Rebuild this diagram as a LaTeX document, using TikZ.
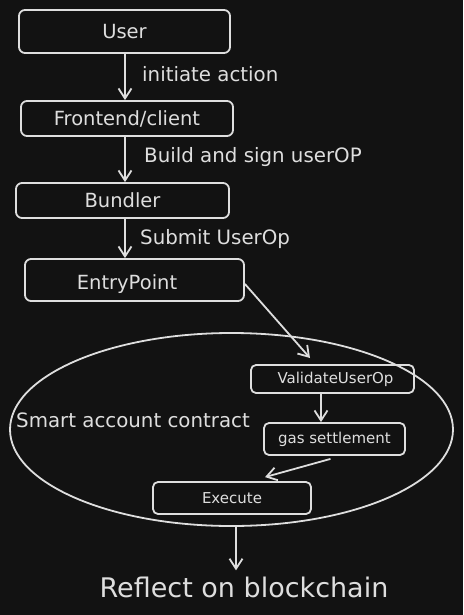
\documentclass[tikz,border=0pt]{standalone}
\usepackage{fontspec}
\setmainfont{DejaVu Sans}
\usetikzlibrary{arrows.meta,shapes.geometric}
\definecolor{bg}{HTML}{121212}
\definecolor{ink}{HTML}{DEDEDE}
\begin{document}
\begin{tikzpicture}[x=1pt,y=-1pt,
  box/.style={draw=ink,line width=1.8pt,rounded corners=6pt,text=ink,inner sep=0pt,font=\fontsize{19.5}{22}\selectfont},
  sbox/.style={box,rounded corners=5pt,font=\fontsize{15}{18}\selectfont},
  lbl/.style={text=ink,anchor=west,inner sep=0pt,font=\fontsize{19.8}{22}\selectfont},
  arr/.style={draw=ink,line width=1.8pt,-{Straight Barb[length=10pt,width=13pt,line width=1.8pt]}}]
\fill[bg] (0,0) rectangle (463,615);
\useasboundingbox (0,0) rectangle (463,615);

\node[box,minimum width=211pt,minimum height=43pt] (user) at (124.5,31.5) {User};
\node[box,minimum width=212pt,minimum height=35pt] (front) at (127,118.5) {Frontend/client};
\node[box,minimum width=213pt,minimum height=35pt] (bund) at (122.5,200.5) {Bundler};
\node[box,minimum width=219pt,minimum height=42pt] (entry) at (134.5,280) {};
\node[text=ink,inner sep=0pt,font=\fontsize{19.5}{22}\selectfont] (entrytxt) at (127,284) {EntryPoint};

\node[draw=ink,line width=1.8pt,ellipse,minimum width=443pt,minimum height=193pt,inner sep=0pt] (sac) at (231.5,429.5) {};
\node[lbl] (saclbl) at (16,420) {Smart account contract};

\node[sbox,minimum width=163pt,minimum height=28pt] (val) at (332.5,379) {\hspace*{6pt}ValidateUserOp};
\node[sbox,minimum width=141pt,minimum height=32pt] (gas) at (334.5,439) {gas settlement};
\node[sbox,minimum width=158pt,minimum height=32pt] (exec) at (232,498) {Execute};

\node[text=ink,inner sep=0pt,font=\fontsize{27}{30}\selectfont] (refl) at (244,587) {Reflect on blockchain};

\node[lbl] (l1) at (142,74) {initiate action};
\node[lbl] (l2) at (144,157) {Build and sign userOP};
\node[lbl] (l3) at (140,239) {Submit UserOp};

\draw[arr] ([xshift=0.5pt]user.south) -- ([xshift=0.5pt]user.south |- front.north);
\draw[arr] ([xshift=-2pt]front.south) -- ([xshift=-2pt]front.south |- bund.north);
\draw[arr] ([xshift=2.5pt]bund.south) -- ([xshift=2.5pt]bund.south |- entry.north);
\coordinate (vtop) at (310,358);
\draw[arr] ([yshift=-4pt]entry.east) -- (vtop);
\draw[arr] ([xshift=-11.5pt]val.south) -- ([xshift=-11.5pt]val.south |- gas.north);
\draw[arr] ([xshift=-4pt,yshift=-3pt]gas.south) -- ([xshift=33pt,yshift=4pt]exec.north);
\draw[arr,shorten >=6pt] ([xshift=4.5pt]sac.south) -- ([xshift=4.5pt]sac.south |- refl.north);
\end{tikzpicture}
\end{document}
